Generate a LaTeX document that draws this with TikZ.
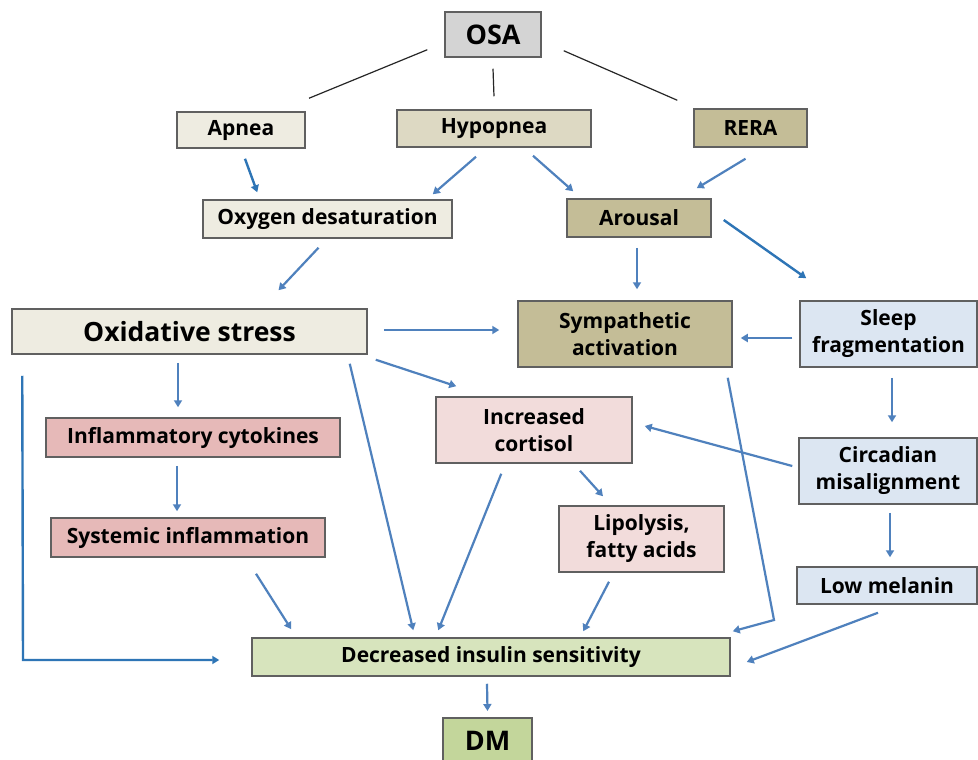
\documentclass[tikz,border=0pt]{standalone}
\usepackage{fontspec}
\setmainfont{Open Sans}
\usetikzlibrary{arrows.meta,calc}
\definecolor{arrc}{HTML}{4F81BD}
\definecolor{arrd}{HTML}{2E75B6}
\definecolor{bord}{HTML}{606060}
\definecolor{cgray}{HTML}{D4D4D4}
\definecolor{clbeige}{HTML}{EEECE1}
\definecolor{cbeige}{HTML}{DDD9C3}
\definecolor{ctan}{HTML}{C4BD97}
\definecolor{cblue}{HTML}{DCE6F2}
\definecolor{cred}{HTML}{E6B9B8}
\definecolor{cpink}{HTML}{F2DCDB}
\definecolor{cgreen}{HTML}{D7E4BD}
\definecolor{cdgreen}{HTML}{C3D69B}
\tikzset{
  x=1pt,y=-1pt,
  box/.style={draw=bord,line width=1.5pt,inner sep=0pt,align=center,
    font=\fontsize{21}{27}\selectfont\bfseries,text=black},
  arr/.style={draw=arrc,line width=2.2pt,-{Triangle[width=8pt,length=7pt]}},
  arrdk/.style={draw=arrd,line width=2.4pt,-{Triangle[width=8pt,length=7pt]}},
  osaline/.style={draw=black!85,line width=1.2pt},
}
\begin{document}
\begin{tikzpicture}
\clip (0,0) rectangle (978,760);
\fill[white] (0,0) rectangle (978,760);
% boxes
\node[box,fill=cgray,minimum width=96pt,minimum height=45pt,font=\fontsize{27}{30}\selectfont\bfseries] (osa) at (493,34.5) {OSA};
\node[box,fill=clbeige,minimum width=128pt,minimum height=36pt] (apnea) at (241,130) {Apnea};
\node[box,fill=cbeige,minimum width=194pt,minimum height=37pt] (hyp) at (494,128.5) {Hypopnea};
\node[box,fill=ctan,minimum width=113pt,minimum height=38pt] (rera) at (750.5,128) {RERA};
\node[box,fill=clbeige,minimum width=249pt,minimum height=38pt] (oxy) at (327.5,219) {Oxygen desaturation};
\node[box,fill=ctan,minimum width=144pt,minimum height=38pt] (arousal) at (639,218) {Arousal};
\node[box,fill=clbeige,minimum width=355pt,minimum height=45pt,font=\fontsize{26.5}{30}\selectfont\bfseries] (oxid) at (189.5,331.5) {Oxidative stress};
\node[box,fill=ctan,minimum width=214pt,minimum height=66pt] (symp) at (625,334) {Sympathetic\\activation};
\node[box,fill=cblue,minimum width=177pt,minimum height=66pt] (sleep) at (888.5,334) {Sleep\\fragmentation};
\node[box,fill=cred,minimum width=294pt,minimum height=39pt] (cyto) at (193,437.5) {Inflammatory cytokines};
\node[box,fill=cpink,minimum width=196pt,minimum height=66pt] (cort) at (534,430) {Increased\\cortisol};
\node[box,fill=cred,minimum width=274pt,minimum height=39pt] (syst) at (188,537.5) {Systemic inflammation};
\node[box,fill=cpink,minimum width=165pt,minimum height=66pt] (lip) at (641.5,539) {Lipolysis,\\fatty acids};
\node[box,fill=cblue,minimum width=178pt,minimum height=66pt] (circ) at (888,471) {Circadian\\misalignment};
\node[box,fill=cblue,minimum width=180pt,minimum height=37pt] (low) at (887,585.5) {Low melanin};
\node[box,fill=cgreen,minimum width=478pt,minimum height=38pt] (ins) at (491,657) {Decreased insulin sensitivity};
\node[box,fill=cdgreen,minimum width=89pt,minimum height=56pt,anchor=north,font=\fontsize{27}{30}\selectfont\bfseries,text depth=0pt] (dm) at (487.5,717) {\raisebox{10pt}{DM}};
% OSA lines
\draw[osaline] ($(osa.south west)+(-17,-8)$) -- ($(apnea.north)+(68,-13)$);
\draw[osaline] ($(osa.south)+(0,11)$) -- ($(hyp.north)+(0,-13)$);
\draw[osaline] ($(osa.south east)+(22,-7)$) -- ($(rera.north west)+(-16,-8)$);
% arrows
\draw[arrdk] ($(apnea.south)+(4,10)$) -- ($(oxy.north west)+(55,-7)$);
\draw[arr] ($(hyp.south)+(-18,9)$) -- ($(oxy.north east)+(-20,-5)$);
\draw[arr] ($(hyp.south)+(39,8)$) -- ($(arousal.north west)+(7,-7)$);
\draw[arr] ($(rera.south)+(-5,11)$) -- ($(arousal.north east)+(-15,-10)$);
\draw[arr] ($(oxy.south)+(-9,9)$) -- ($(oxid.north)+(89,-18)$);
\draw[arr] ($(arousal.south)+(-2,10)$) -- ($(symp.north)+(12,-11)$);
\draw[arrdk] ($(arousal.east)+(12,2)$) -- ($(sleep.north west)+(7,-22)$);
\draw[arr] ($(oxid.east)+(16,-1.5)$) -- ($(symp.west)+(-18,-4)$);
\draw[arr] ($(sleep.west)+(-7,4)$) -- ($(symp.east)+(8,4)$);
\draw[arr] ($(oxid.south east)+(8,5)$) -- ($(cort.north west)+(21,-10)$);
\draw[arr] ($(oxid.south)+(-11.5,8)$) -- ($(cyto.north)+(-15,-10)$);
\draw[arr] ($(cyto.south)+(-16,8)$) -- ($(syst.north)+(-11,-6)$);
\draw[arr] ($(sleep.south)+(3.5,10)$) -- ($(circ.north)+(4,-15)$);
\draw[arr] ($(circ.south)+(2,8)$) -- ($(low.north)+(3,-9)$);
\draw[arr] ($(circ.west)+(-6,-5)$) -- ($(cort.east)+(12,-4)$);
\draw[arr] ($(cort.south)+(46,7)$) -- ($(lip.north)+(-38.5,-9)$);
\draw[arr] ($(oxid.south east)+(-18,9)$) -- ($(ins.north west)+(162,-7)$);
\draw[arr] ($(cort.south west)+(66,10)$) -- ($(ins.north west)+(187,-7)$);
\draw[arr] ($(syst.south)+(68,16)$) -- ($(ins.north west)+(40,-8)$);
\draw[arr] ($(lip.south)+(-32.5,9)$) -- ($(ins.north west)+(332,-6)$);
\coordinate (sbend) at (774,620);
\draw[arr] ($(symp.south east)+(-5,10)$) -- (sbend) -- ($(ins.north east)+(2,-6)$);
\draw[arr] ($(low.south)+(-9,8)$) -- ($(ins.east)+(16,5)$);
\coordinate (lbend) at (23,660);
\draw[arrdk] ($(oxid.south west)+(11,21)$) -- (lbend) -- ($(ins.west)+(-32,3)$);
\draw[arr] ($(ins.south)+(-4,7)$) -- ($(dm.north)+(0,-6)$);
\end{tikzpicture}
\end{document}
